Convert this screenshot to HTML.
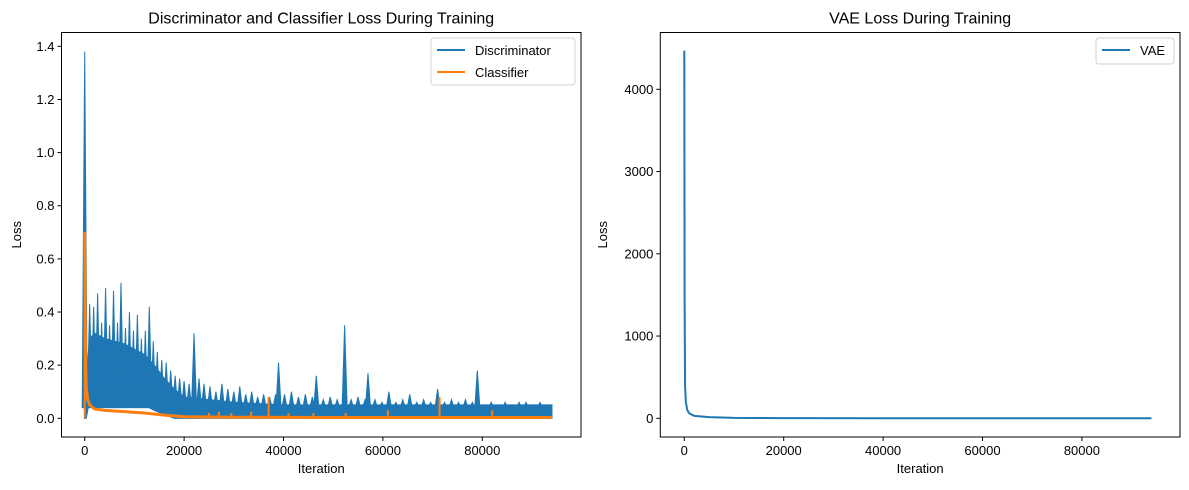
<!DOCTYPE html>
<html><head><meta charset="utf-8"><style>
html,body{margin:0;padding:0;background:#fff;}
svg{display:block;font-family:"Liberation Sans","DejaVu Sans",sans-serif;}
</style></head><body>
<svg id="fig" width="1189" height="490" viewBox="0 0 1189 490"></svg>
<script>
// ---- Left chart data ----
const bodyIters = [0,300,1000,2000,4000,6000,8000,10000,12000,14000,16000,18000,20000,30000,40000,50000,60000,70000,80000,94000];
const discBody = [0.0,0.15,0.30,0.32,0.30,0.29,0.28,0.26,0.24,0.20,0.15,0.11,0.08,0.06,0.05,0.05,0.05,0.05,0.05,0.05];
const discLow = [0.0,0.0,0.07,0.09,0.085,0.075,0.065,0.06,0.05,0.03,0.015,0.0,0.0,0.0,0.0,0.0,0.0,0.0,0.0,0.0];
const spikeIters = [0,1000,1800,2600,3400,4200,5000,5800,6600,7300,8200,9000,9800,10600,11400,12200,13000,13800,14600,15500,16400,17300,18200,19100,20000,21000,22000,23000,24000,25200,26400,27600,28800,30000,31200,32400,33600,34800,36000,37200,38400,39000,40200,41600,43000,44400,45800,46600,48000,49400,50800,52300,53600,55000,56400,57000,58400,59800,61200,62600,64000,65400,66800,68200,69600,71000,72400,73800,75200,76600,78000,79000,80400,81800,83200,84600,86000,87400,88800,90200,91600,93000];
const spikeVals = [1.38,0.43,0.42,0.47,0.36,0.49,0.35,0.48,0.36,0.51,0.34,0.40,0.33,0.39,0.30,0.33,0.42,0.29,0.25,0.22,0.21,0.18,0.16,0.15,0.14,0.13,0.32,0.15,0.13,0.12,0.10,0.13,0.11,0.10,0.12,0.09,0.10,0.08,0.09,0.08,0.09,0.21,0.09,0.10,0.08,0.09,0.08,0.16,0.07,0.08,0.07,0.35,0.07,0.08,0.07,0.17,0.07,0.06,0.10,0.06,0.07,0.09,0.06,0.07,0.06,0.11,0.06,0.07,0.06,0.07,0.06,0.18,0.05,0.06,0.05,0.06,0.05,0.06,0.06,0.05,0.06,0.05];
const clsIters = [0,150,300,600,1000,2000,4000,8000,12000,16000,20000,30000,50000,94000];
const clsVals = [0.70,0.25,0.12,0.07,0.05,0.035,0.03,0.025,0.02,0.012,0.006,0.004,0.003,0.003];
const clsSpikeIters = [25000,27000,29500,33500,37000,41000,46000,52500,61000,71400,82000];
const clsSpikeVals = [0.02,0.025,0.02,0.025,0.08,0.02,0.02,0.02,0.03,0.08,0.03];
const leftYTicks = [0.0,0.2,0.4,0.6,0.8,1.0,1.2,1.4];
const xTicks = [0,20000,40000,60000,80000];
// ---- Right chart data ----
const vaeIters = [0,60,150,300,600,1000,2000,5000,10000,20000,40000,60000,80000,94000];
const vaeVals = [4470,1500,400,200,100,60,30,15,5,2,1,1,1,1];
const rightYTicks = [0,1000,2000,3000,4000];

const NS='http://www.w3.org/2000/svg';
const svg=document.getElementById('fig');
function mk(tag,attrs,parent){const e=document.createElementNS(NS,tag);for(const k in attrs)e.setAttribute(k,attrs[k]);(parent||svg).appendChild(e);return e;}
function txt(s,attrs,parent){const e=mk('text',attrs,parent);e.textContent=s;return e;}
const XPX=99.4;

function frame(g,L,T,R,B,X,Y,yt,fmt,title,prefix){
  mk('rect',{x:L,y:T,width:R-L,height:B-T,fill:'none',stroke:'#000','stroke-width':1},g);
  xTicks.forEach(t=>{
    const x=X(t);
    mk('line',{x1:x,x2:x,y1:B,y2:B+4,stroke:'#000'},g);
    const e=txt(String(t),{x:x,y:B+18,'font-size':13,'text-anchor':'middle',fill:'#000'},g);
    
    
  });
  yt.forEach(t=>{
    const y=Y(t);
    mk('line',{x1:L-4,x2:L,y1:y,y2:y,stroke:'#000'},g);
    const e=txt(fmt(t),{x:L-7,y:y+4.5,'font-size':13,'text-anchor':'end',fill:'#000'},g);
    
    
  });
  const xt=txt('Iteration',{x:(L+R)/2,y:B+36,'font-size':13,'text-anchor':'middle'},g);
  
  
  const ti=txt(title,{x:(L+R)/2,y:T-9,'font-size':16,'text-anchor':'middle'},g);
  
  
}

// Left
(function(){
  const L=61.5,T=32.5,R=581,B=437;
  const g=mk('g',{});
  
  
  const X=v=>84.7+v/20000*XPX;
  const Y=v=>418.3-v/0.2*53.14;
  const up=bodyIters.map((it,i)=>[X(it),Y(discBody[i])]);
  const lo=bodyIters.map((it,i)=>[X(it),Y(discLow[i])]).reverse();
  const d=mk('polygon',{points:up.concat(lo).map(p=>p.join(',')).join(' '),fill:'#1f77b4',stroke:'#1f77b4','stroke-width':1.2},g);
  
  
  spikeIters.forEach((it,i)=>{
    const s=mk('polygon',{points:`${X(it)-2.5},${Y(0.04)} ${X(it)},${Y(spikeVals[i])} ${X(it)+2.5},${Y(0.04)}`,fill:'#1f77b4',stroke:'#1f77b4','stroke-width':1},g);
    
    
  });
  const c=mk('polyline',{points:clsIters.map((it,i)=>X(it)+','+Y(clsVals[i])).join(' '),fill:'none',stroke:'#ff7f0e','stroke-width':3},g);
  
  
  mk('line',{x1:X(0),x2:X(0),y1:Y(0),y2:Y(0.7),stroke:'#ff7f0e','stroke-width':2},g);
  clsSpikeIters.forEach((it,i)=>{
    const s=mk('line',{x1:X(it),x2:X(it),y1:Y(0),y2:Y(clsSpikeVals[i]),stroke:'#ff7f0e','stroke-width':2},g);
    
    
  });
  frame(g,L,T,R,B,X,Y,leftYTicks,t=>t.toFixed(1),'Discriminator and Classifier Loss During Training','left');
  const yl=txt('Loss',{x:0,y:0,'font-size':13,'text-anchor':'middle',transform:`translate(21,${(T+B)/2}) rotate(-90)`},g);
  
  
  const lg=mk('g',{},g);
  
  
  mk('rect',{x:431,y:38,width:144,height:47,rx:3,fill:'#fff',stroke:'#d0d0d0'},lg);
  mk('line',{x1:437,x2:465,y1:50,y2:50,stroke:'#1f77b4','stroke-width':2},lg);
  const l1=txt('Discriminator',{x:475,y:55,'font-size':13},lg);
  
  
  mk('line',{x1:437,x2:465,y1:72,y2:72,stroke:'#ff7f0e','stroke-width':2},lg);
  const l2=txt('Classifier',{x:475,y:77,'font-size':13},lg);
  
  
})();

// Right
(function(){
  const L=660.3,T=32.5,R=1180,B=437;
  const g=mk('g',{});
  
  
  const X=v=>684.3+v/20000*XPX;
  const Y=v=>418.3-v/1000*82.25;
  const v=mk('polyline',{points:vaeIters.map((it,i)=>X(it)+','+Y(vaeVals[i])).join(' '),fill:'none',stroke:'#1f77b4','stroke-width':2},g);
  
  
  frame(g,L,T,R,B,X,Y,rightYTicks,t=>String(t),'VAE Loss During Training','right');
  const yl=txt('Loss',{x:0,y:0,'font-size':13,'text-anchor':'middle',transform:`translate(607,${(T+B)/2}) rotate(-90)`},g);
  
  
  const lg=mk('g',{},g);
  
  
  mk('rect',{x:1096,y:38,width:78,height:26,rx:3,fill:'#fff',stroke:'#d0d0d0'},lg);
  mk('line',{x1:1102,x2:1130,y1:50,y2:50,stroke:'#1f77b4','stroke-width':2},lg);
  const l1=txt('VAE',{x:1140,y:55,'font-size':13},lg);
  
  
})();
</script>
</body></html>
